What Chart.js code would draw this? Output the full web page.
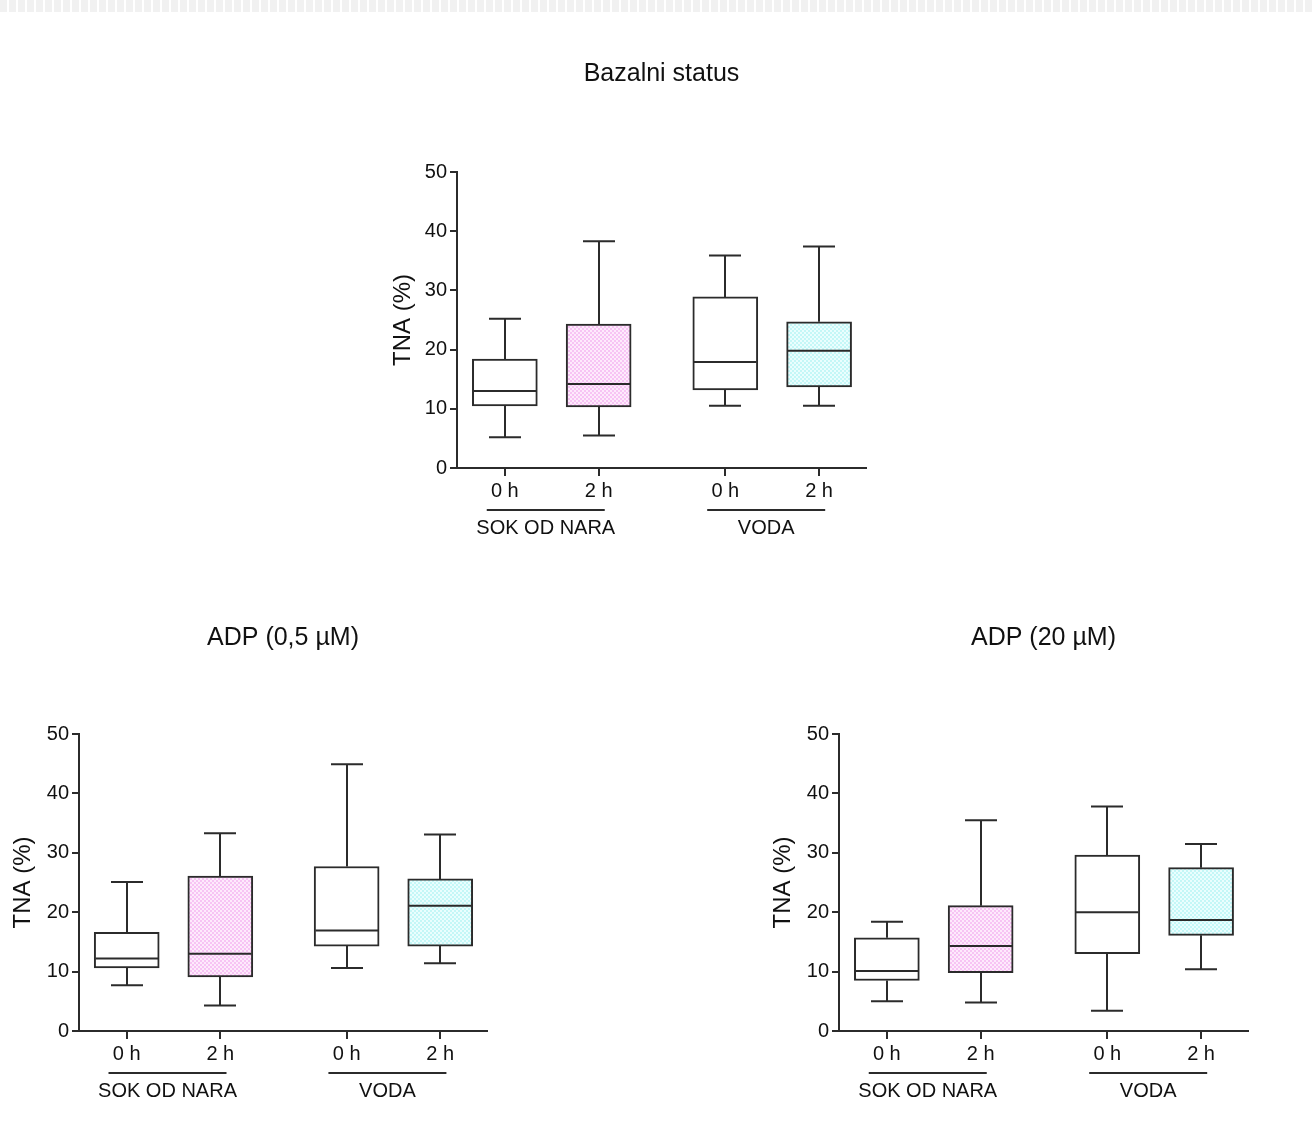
<!DOCTYPE html>
<html>
<head>
<meta charset="utf-8">
<script src="https://cdn.jsdelivr.net/npm/chart.js@4.4.0/dist/chart.umd.min.js"></script>
<style>
  body { margin: 0; background: #fff; width: 1314px; height: 1139px; overflow: hidden; position: relative; }
  .strip { position: absolute; left: 0; top: 0; width: 1314px; height: 12px;
           background: repeating-linear-gradient(90deg, #f1f1f1 0 7px, #fff 7px 9px); }
  .box { position: absolute; }
</style>
</head>
<body>
<div class="strip"></div>
<div class="box" style="left:370px;top:40px;width:510px;height:520px"><canvas id="bazal"></canvas></div>
<div class="box" style="left:0px;top:600px;width:500px;height:520px"><canvas id="adp05"></canvas></div>
<div class="box" style="left:760px;top:600px;width:500px;height:520px"><canvas id="adp20"></canvas></div>
<script>
const timeLabels = ['0 h', '2 h', '0 h', '2 h'];
const groupLabels = ['SOK OD NARA', 'VODA'];
const yTicks = [0, 10, 20, 30, 40, 50];

// Bazalni status
const bazMin = [5.2, 5.5, 10.5, 10.5];
const bazQ1  = [10.5, 10.3, 13.2, 13.7];
const bazMed = [13.0, 14.2, 17.9, 19.8];
const bazQ3  = [18.4, 24.3, 28.9, 24.7];
const bazMax = [25.2, 38.3, 35.9, 37.4];

// ADP (0,5 uM)
const adp05Min = [7.7, 4.3, 10.6, 11.4];
const adp05Q1  = [10.6, 9.1, 14.3, 14.3];
const adp05Med = [12.2, 13.0, 16.9, 21.1];
const adp05Q3  = [16.6, 26.1, 27.7, 25.6];
const adp05Max = [25.1, 33.3, 44.9, 33.1];

// ADP (20 uM)
const adp20Min = [5.0, 4.8, 3.4, 10.4];
const adp20Q1  = [8.5, 9.8, 13.0, 16.1];
const adp20Med = [10.1, 14.3, 20.0, 18.7];
const adp20Q3  = [15.7, 21.1, 29.6, 27.5];
const adp20Max = [18.4, 35.5, 37.8, 31.5];

// where the four boxes sit on the x scale (gap between the two groups)
const slotPos = [1, 2, 3.35, 4.35];

const FONT = '"Liberation Sans", Arial, sans-serif';
const LINE = '#2b2b2b';
const TXT = '#111';

function checker(c1, c2) {
  const p = document.createElement('canvas');
  p.width = 4; p.height = 4;
  const g = p.getContext('2d');
  g.fillStyle = c2; g.fillRect(0, 0, 4, 4);
  g.fillStyle = c1; g.fillRect(0, 0, 2, 2); g.fillRect(2, 2, 2, 2);
  return g.createPattern(p, 'repeat');
}
const pink = checker('rgb(247,196,244)', 'rgb(254,234,252)');
const cyan = checker('rgb(196,247,247)', 'rgb(234,254,254)');
const fills = ['#fff', pink, '#fff', cyan];

const whiskerPlugin = {
  id: 'whiskers',
  afterDatasetsDraw(chart, args, opts) {
    const ctx = chart.ctx, y = chart.scales.y, x = chart.scales.x;
    const s = opts.stats;
    const meta = chart.getDatasetMeta(0);
    ctx.save();
    ctx.strokeStyle = LINE;
    ctx.lineWidth = 2;
    meta.data.forEach((bar, i) => {
      const cx = Math.round(bar.x);
      const half = bar.width / 2;
      const pMin = y.getPixelForValue(s.min[i]);
      const pQ1 = y.getPixelForValue(s.q1[i]);
      const pMed = y.getPixelForValue(s.med[i]);
      const pQ3 = y.getPixelForValue(s.q3[i]);
      const pMax = y.getPixelForValue(s.max[i]);
      ctx.beginPath();
      ctx.moveTo(cx, pQ3); ctx.lineTo(cx, pMax);
      ctx.moveTo(cx - 16, pMax); ctx.lineTo(cx + 16, pMax);
      ctx.moveTo(cx, pQ1); ctx.lineTo(cx, pMin);
      ctx.moveTo(cx - 16, pMin); ctx.lineTo(cx + 16, pMin);
      ctx.moveTo(cx - half + 1, pMed); ctx.lineTo(cx + half - 1, pMed);
      ctx.stroke();
    });
    // group labels under the time ticks
    const base = chart.chartArea.bottom;
    ctx.font = '20px ' + FONT;
    ctx.fillStyle = TXT;
    ctx.textAlign = 'center';
    ctx.textBaseline = 'middle';
    groupLabels.forEach((g, k) => {
      const mid = (x.getPixelForValue(slotPos[2 * k]) + x.getPixelForValue(slotPos[2 * k + 1])) / 2 - 6;
      ctx.beginPath();
      ctx.moveTo(mid - 59, base + 42); ctx.lineTo(mid + 59, base + 42);
      ctx.stroke();
      ctx.fillText(g, mid, base + 60);
    });
    ctx.restore();
  }
};

function makeChart(id, title, stats, lay) {
  const boxes = stats.q1.map((q, i) => ({ x: slotPos[i], y: [q, stats.q3[i]] }));
  new Chart(document.getElementById(id), {
    type: 'bar',
    data: {
      datasets: [{
        data: boxes,
        backgroundColor: fills,
        borderColor: LINE,
        borderWidth: 2,
        borderSkipped: false,
        barThickness: 65
      }]
    },
    options: {
      responsive: true,
      maintainAspectRatio: false,
      animation: false,
      layout: { padding: { left: 0, right: lay.right, top: 0, bottom: 0 } },
      plugins: {
        legend: { display: false },
        tooltip: { enabled: false },
        title: {
          display: true, text: title, fullSize: false, color: TXT,
          font: { size: 25, family: FONT, weight: 'normal' },
          padding: { top: lay.titleTop, bottom: lay.titleBottom }
        },
        whiskers: { stats: stats }
      },
      scales: {
        x: {
          type: 'linear', min: 0.49, max: 4.85, offset: false,
          afterBuildTicks: s => { s.ticks = slotPos.map(v => ({ value: v })); },
          afterFit: s => { s.height = lay.xHeight; },
          ticks: {
            autoSkip: false, maxRotation: 0, color: TXT, padding: 3,
            font: { size: 20, family: FONT },
            callback: (v, i) => timeLabels[i]
          },
          grid: { drawOnChartArea: false, drawTicks: true, tickLength: 8, color: LINE, lineWidth: 2, offset: false },
          border: { color: LINE, width: 2 }
        },
        y: {
          min: 0, max: 50,
          afterBuildTicks: s => { s.ticks = yTicks.map(v => ({ value: v })); },
          afterFit: s => { s.width = lay.yWidth; },
          ticks: { color: TXT, padding: 3, font: { size: 20, family: FONT } },
          grid: { drawOnChartArea: false, drawTicks: true, tickLength: 7, color: LINE, lineWidth: 2 },
          border: { color: LINE, width: 2 },
          title: {
            display: true, text: 'TNA (%)', color: TXT,
            font: { size: 24, family: FONT },
            padding: { top: lay.yTitlePad, bottom: 0 }
          }
        }
      }
    },
    plugins: [whiskerPlugin]
  });
}

makeChart('bazal', 'Bazalni status',
  { min: bazMin, q1: bazQ1, med: bazMed, q3: bazQ3, max: bazMax },
  { right: 14, titleTop: 19, titleBottom: 83, yWidth: 87, yTitlePad: 18.5, xHeight: 92 });

makeChart('adp05', 'ADP (0,5 \u00b5M)',
  { min: adp05Min, q1: adp05Q1, med: adp05Med, q3: adp05Q3, max: adp05Max },
  { right: 13, titleTop: 23, titleBottom: 81, yWidth: 79, yTitlePad: 8.5, xHeight: 89 });

makeChart('adp20', 'ADP (20 \u00b5M)',
  { min: adp20Min, q1: adp20Q1, med: adp20Med, q3: adp20Q3, max: adp20Max },
  { right: 12, titleTop: 23, titleBottom: 81, yWidth: 79, yTitlePad: 8.5, xHeight: 89 });
</script>
</body>
</html>
